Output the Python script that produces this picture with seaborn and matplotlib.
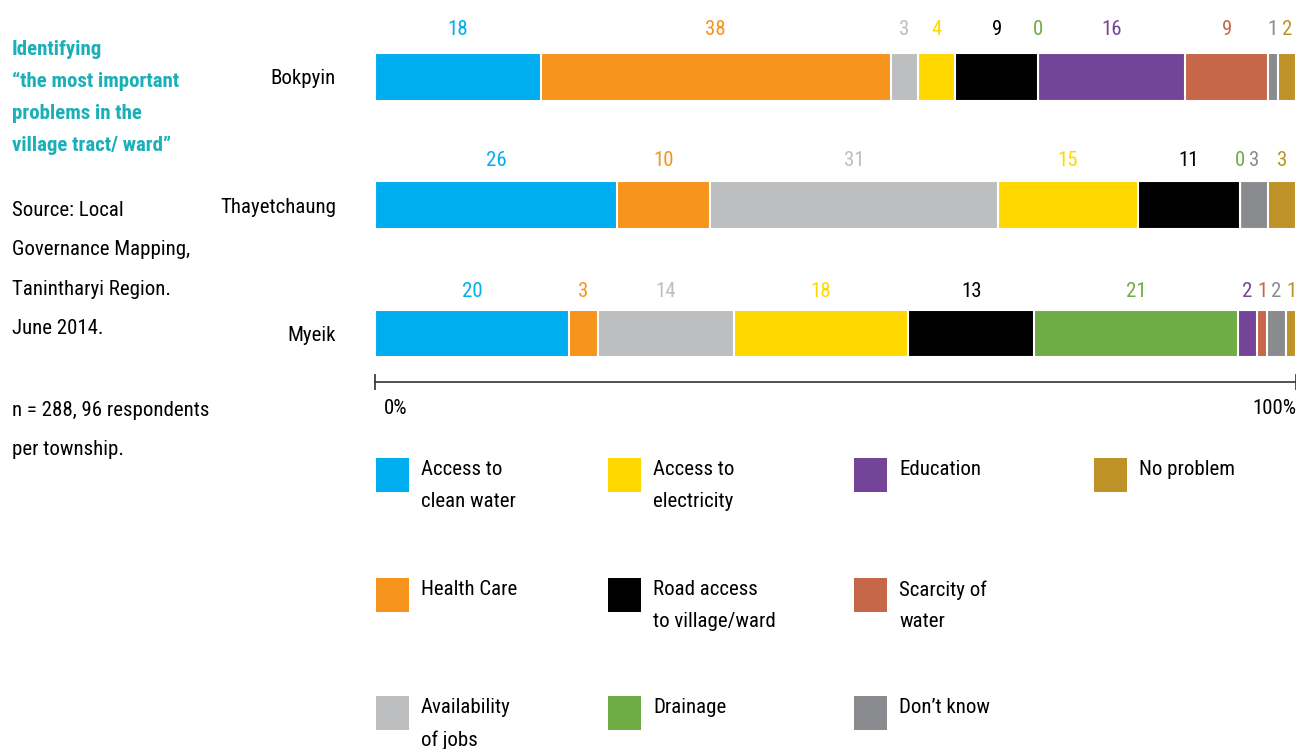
import numpy as np
import pandas as pd
import seaborn as sns
import matplotlib.pyplot as plt
import matplotlib.transforms as mtransforms
from matplotlib.patches import Rectangle

# data (respondents per answer)
townships = ['Bokpyin', 'Thayetchaung', 'Myeik']
categories = ['Access to\nclean water', 'Health Care', 'Availability\nof jobs',
              'Access to\nelectricity', 'Road access\nto village/ward', 'Drainage',
              'Education', 'Scarcity of\nwater', 'Don\u2019t know', 'No problem']
colors = ['#00aeef', '#f7941d', '#bcbec0', '#ffd800', '#000000', '#6fac46',
          '#744499', '#c66749', '#8a8b8e', '#be9226']
bokpyin = [18, 38, 3, 4, 9, 0, 16, 9, 1, 2]
thayetchaung = [26, 10, 31, 15, 11, 0, np.nan, np.nan, 3, 3]
myeik = [20, 3, 14, 18, 13, 21, 2, 1, 2, 1]

sns.set_theme(style='white')
plt.rcParams['font.family'] = ['Roboto Condensed', 'DejaVu Sans']

W, H = 1296, 749
fig = plt.figure(figsize=(W / 100, H / 100), dpi=100)

# background axes in pixel coords for side text and legend
bg = fig.add_axes([0, 0, 1, 1])
bg.set_xlim(0, W)
bg.set_ylim(H, 0)
bg.axis('off')
bg.patch.set_alpha(0)

df = pd.DataFrame([bokpyin, thayetchaung, myeik], index=townships, columns=categories)
pct = df.fillna(0).div(df.fillna(0).sum(axis=1), axis=0) * 100
cum = pct.cumsum(axis=1)

ax = fig.add_axes([375 / W, 1 - 400 / H, 921 / W, 400 / H])
ax.patch.set_alpha(0)
for i in reversed(range(len(categories))):
    sns.barplot(x=cum.iloc[:, i].values, y=townships, orient='h', color=colors[i],
                saturation=1, width=0.37, edgecolor='white', linewidth=1.5, ax=ax)

# value labels above segments
for r, town in enumerate(townships):
    for i, cat in enumerate(categories):
        v = df.loc[town, cat]
        if pd.isna(v):
            continue
        mid = cum.iloc[r, i] - pct.iloc[r, i] / 2
        ax.text(mid, r - 0.37 + 0.02 * r, str(int(v)), color=colors[i], ha='center',
                va='center', fontsize=15)

ax.set_xlim(0, 100)
ax.set_ylim(2.52, -0.6)
ax.set_xlabel('')
ax.set_ylabel('')
for s in ['top', 'right', 'left']:
    ax.spines[s].set_visible(False)
ax.spines['bottom'].set_position(('data', 2.38))
ax.spines['bottom'].set_bounds(0, 100)
ax.spines['bottom'].set_color('#333333')
ax.spines['bottom'].set_linewidth(1.2)
ax.set_xticks([0, 100])
ax.set_xticklabels(['0%', '100%'], fontsize=15, color='black')
ax.tick_params(axis='x', direction='inout', length=12, width=1.2, color='#333333', pad=6,
               bottom=True)
xl = ax.get_xticklabels()
xl[0].set_ha('left')
xl[0].set_transform(xl[0].get_transform() +
                    mtransforms.ScaledTranslation(9 / 100, 0, fig.dpi_scale_trans))
xl[1].set_ha('right')
ax.tick_params(axis='y', length=0, pad=28, labelsize=15, labelcolor='black')

# left side text
bg.text(12, 40, 'Identifying\n\u201cthe most important\nproblems in the\nvillage tract/ ward\u201d',
        color='#1aafb9', fontweight='bold', fontsize=15, va='top', linespacing=1.85)
bg.text(12, 201, 'Source: Local\nGovernance Mapping,\nTanintharyi Region.\nJune 2014.',
        color='black', fontsize=15, va='top', linespacing=2.36)
bg.text(12, 401, 'n = 288, 96 respondents\nper township.',
        color='black', fontsize=15, va='top', linespacing=2.36)

# legend, filled column by column
col_x = [376, 608, 854, 1094]
row_y = [458, 578, 696]
for i, cat in enumerate(categories):
    x0 = col_x[i // 3]
    y0 = row_y[i % 3]
    bg.add_patch(Rectangle((x0, y0), 33, 34, color=colors[i], lw=0))
    bg.text(x0 + 45, y0 + 2, cat, fontsize=15, va='top', ha='left', linespacing=1.85,
            color='black')

fig.savefig('out.png', dpi=100)
